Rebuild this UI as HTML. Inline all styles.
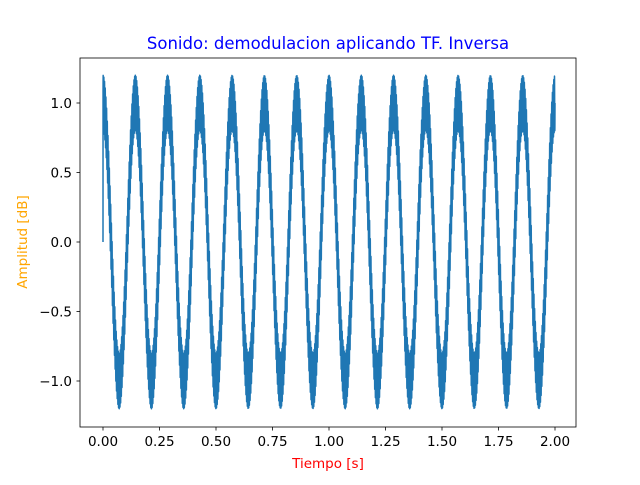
<!DOCTYPE html>
<html><head><meta charset="utf-8"><style>
body{margin:0;background:#fff}
svg text{font-family:"DejaVu Sans","Liberation Sans",sans-serif;font-size:13.5px}
</style></head><body>
<svg width="640" height="480" xmlns="http://www.w3.org/2000/svg">
<rect width="640" height="480" fill="#fff"/>
<text x="328" y="49" text-anchor="middle" fill="blue" style="font-size:16.5px">Sonido: demodulacion aplicando TF. Inversa</text>
<g id="ticks"></g>
<path id="line" fill="none" stroke="#1f77b4" stroke-width="1.5" stroke-linejoin="round"/>
<rect x="80" y="58" width="496" height="369" fill="none" stroke="#000" stroke-width="0.8"/>
<text x="328" y="468" text-anchor="middle" fill="red">Tiempo [s]</text>
<text transform="translate(27,242) rotate(-90)" text-anchor="middle" fill="orange">Amplitud [dB]</text>
</svg>
<script>
const xTicks=[0,0.25,0.5,0.75,1.0,1.25,1.5,1.75,2.0];
const xTickLabels=["0.00","0.25","0.50","0.75","1.00","1.25","1.50","1.75","2.00"];
const yTicks=[-1.0,-0.5,0,0.5,1.0];
const yTickLabels=["−1.0","−0.5","0.0","0.5","1.0"];
// extremes of the carrier (time, value)
const extremeTimes=[0,0.0714,0.1429,0.2143,0.2857,0.3571,0.4286,0.5,0.5714,0.6429,0.7143,0.7857,0.8571,0.9286,1.0,1.0714,1.1429,1.2143,1.2857,1.3571,1.4286,1.5,1.5714,1.6429,1.7143,1.7857,1.8571,1.9286,2.0];
const extremeValues=[1,-1,1,-1,1,-1,1,-1,1,-1,1,-1,1,-1,1,-1,1,-1,1,-1,1,-1,1,-1,1,-1,1,-1,1];
const rippleAmp=[0.2];
const rippleFreq=[330];
const startValue=[0];
function X(t){return 103+t*226;}
function Y(v){return 242-v*139;}
const NS="http://www.w3.org/2000/svg";
const g=document.getElementById('ticks');
xTicks.forEach((t,i)=>{
 const l=document.createElementNS(NS,'line');
 
 
 l.setAttribute('x1',X(t));l.setAttribute('x2',X(t));l.setAttribute('y1',427);l.setAttribute('y2',430.5);l.setAttribute('stroke','#000');l.setAttribute('stroke-width','0.8');g.appendChild(l);
 const tx=document.createElementNS(NS,'text');
 
 
 tx.setAttribute('x',X(t));tx.setAttribute('y',446);tx.setAttribute('text-anchor','middle');tx.textContent=xTickLabels[i];g.appendChild(tx);
});
yTicks.forEach((v,i)=>{
 const l=document.createElementNS(NS,'line');
 
 
 l.setAttribute('x1',76.5);l.setAttribute('x2',80);l.setAttribute('y1',Y(v));l.setAttribute('y2',Y(v));l.setAttribute('stroke','#000');l.setAttribute('stroke-width','0.8');g.appendChild(l);
 const tx=document.createElementNS(NS,'text');
 
 
 tx.setAttribute('x',72);tx.setAttribute('y',Y(v)+5);tx.setAttribute('text-anchor','end');tx.textContent=yTickLabels[i];g.appendChild(tx);
});
let d='M'+X(0)+','+Y(startValue[0]);
const tEnd=extremeTimes[extremeTimes.length-1];
const N=10000;
for(let k=1;k<=N;k++){
 const t=k/N*tEnd;
 let j=0;while(j<extremeTimes.length-2&&t>extremeTimes[j+1])j++;
 const t0=extremeTimes[j],t1=extremeTimes[j+1],v0=extremeValues[j],v1=extremeValues[j+1];
 const f=(t-t0)/(t1-t0);
 const base=v0+(v1-v0)*(1-Math.cos(Math.PI*f))/2;
 const v=base+rippleAmp[0]*Math.sin(2*Math.PI*rippleFreq[0]*t);
 d+=' L'+X(t).toFixed(2)+','+Y(v).toFixed(2);
}
document.getElementById('line').setAttribute('d',d);
</script>
</body></html>
